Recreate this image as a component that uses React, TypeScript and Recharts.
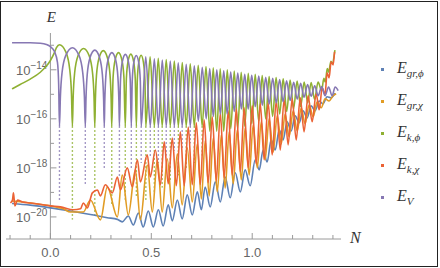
import React from "react";
import { LineChart, Line, XAxis, YAxis, ReferenceLine } from "recharts";

// values: N (e-folds) and log10 of the energy

// E_V (purple)
const vN = [
  -0.19, -0.1, -0.05, -0.02, 0, 0.02, 0.035, 0.041, 0.045,
  0.0495, 0.058, 0.077, 0.109, 0.141, 0.16, 0.1685, 0.173,
  0.1763, 0.1824, 0.1965, 0.22, 0.2435, 0.2576, 0.2637, 0.267,
  0.2695, 0.2745, 0.2855, 0.3045, 0.3235, 0.3345, 0.3395, 0.342,
  0.3475, 0.3565, 0.3715, 0.3865, 0.3955, 0.401,
  0.4055, 0.413, 0.4255, 0.438, 0.4455, 0.45,
  0.4725, 0.495, 0.515, 0.535, 0.5545, 0.574, 0.594, 0.614, 0.6335, 0.653,
  0.673, 0.693, 0.713, 0.733, 0.7525, 0.772, 0.7895, 0.807, 0.8245, 0.842,
  0.859, 0.876, 0.8935, 0.911, 0.9285, 0.946, 0.963, 0.98, 0.9975, 1.015,
  1.0325, 1.05, 1.067, 1.084, 1.1015, 1.119, 1.136, 1.153, 1.1705, 1.188,
  1.2055, 1.223, 1.24, 1.257, 1.2745, 1.292, 1.3095, 1.327, 1.344, 1.361,
  1.3785, 1.396, 1.411, 1.426,
];
const vE = [
  -12.9, -12.9, -12.92, -12.97, -13.06, -13.25, -13.7, -14.6, -16.3,
  -15.1, -14.1, -13.4, -13.1, -13.4, -14.1, -15.1, -16.3,
  -15.2, -14.2, -13.5, -13.2, -13.5, -14.2, -15.2, -16.3,
  -15.3, -14.3, -13.6, -13.3, -13.6, -14.3, -15.3, -16.3,
  -14.4, -13.67, -13.37, -13.67, -14.4, -16.3,
  -14.45, -13.72, -13.42, -13.72, -14.45, -16.3,
  -13.47, -16.3, -13.55, -16.3, -13.6, -16.3, -13.64, -16.3, -13.72, -16.3,
  -13.78, -16.3, -13.84, -16.1, -13.9, -16.0, -13.95, -15.9, -14.0, -15.8,
  -14.04, -15.8, -14.09, -15.7, -14.13, -15.6, -14.18, -15.6, -14.22, -15.5,
  -14.26, -15.45, -14.31, -15.4, -14.35, -15.35, -14.4, -15.3, -14.45, -15.25,
  -14.51, -15.2, -14.55, -15.12, -14.6, -15.08, -14.65, -15.06, -14.68, -15.06,
  -14.7, -15.06, -14.7, -14.85,
];
const vDipN = [0.045, 0.173, 0.267, 0.342, 0.401, 0.45, 0.495, 0.535, 0.574, 0.614, 0.653, 0.693];
const vDipE = [-19.4, -18.7, -18.0, -18.4, -18.0, -17.8, -17.6, -17.8, -17.5, -17.3, -17.2, -17.0];

// E_k,phi (green)
const gN = [
  -0.19, -0.15, -0.1, -0.05, -0.02, 0, 0.02, 0.03, 0.045, 0.077, 0.096, 0.1045, 0.109,
  0.1129, 0.1201, 0.1367, 0.1645, 0.1923, 0.2089, 0.2161, 0.22,
  0.223, 0.2284, 0.241, 0.262, 0.283, 0.2956, 0.301, 0.304,
  0.3107, 0.3207, 0.3375, 0.3543, 0.3643, 0.371,
  0.3765, 0.3847, 0.3985, 0.4123, 0.4205, 0.426,
  0.4307, 0.4378, 0.4495, 0.4612, 0.4683, 0.473,
  0.494, 0.515, 0.5345, 0.554, 0.574, 0.594, 0.614, 0.634, 0.6535, 0.673,
  0.693, 0.713, 0.7325, 0.752, 0.771, 0.79, 0.807, 0.824, 0.8415, 0.859,
  0.8765, 0.894, 0.911, 0.928, 0.9455, 0.963, 0.9805, 0.998, 1.015, 1.032,
  1.0495, 1.067, 1.084, 1.101, 1.1185, 1.136, 1.1535, 1.171, 1.188, 1.205,
  1.2225, 1.24, 1.2575, 1.275, 1.292, 1.309, 1.3265, 1.344, 1.355, 1.362,
  1.372, 1.379, 1.39, 1.396, 1.41,
];
const gE = [
  -14.78, -14.6, -14.38, -14.1, -13.85, -13.62, -13.3, -13.1, -12.98, -13.28, -14.0, -15.0, -16.3,
  -15.1, -14.13, -13.43, -13.13, -13.43, -14.13, -15.1, -16.3,
  -15.2, -14.22, -13.52, -13.22, -13.52, -14.22, -15.2, -16.3,
  -14.3, -13.6, -13.3, -13.6, -14.3, -16.3,
  -14.36, -13.66, -13.36, -13.66, -14.36, -16.3,
  -14.41, -13.71, -13.41, -13.71, -14.41, -16.3,
  -13.47, -16.3, -13.53, -16.3, -13.58, -16.3, -13.64, -16.3, -13.7, -16.3,
  -13.76, -16.3, -13.82, -16.3, -13.87, -16.5, -13.92, -16.5, -13.96, -16.5,
  -14.0, -16.4, -14.05, -16.4, -14.1, -16.3, -14.14, -16.2, -14.18, -16.1,
  -14.23, -16.0, -14.28, -15.9, -14.32, -15.8, -14.37, -15.7, -14.42, -15.6,
  -14.46, -15.5, -14.5, -15.35, -14.52, -15.2, -14.5, -14.85, -14.35, -14.5,
  -13.95, -14.1, -13.65, -13.75, -13.2,
];
const gDipN = [0.109, 0.22, 0.304, 0.371, 0.426, 0.473, 0.515, 0.554, 0.594, 0.634, 0.673, 0.713, 0.752];
const gDipE = [-20.1, -20.0, -19.5, -19.4, -19.2, -19.4, -19.0, -18.8, -18.5, -18.3, -18.0, -17.8, -17.5];
const dipTop = -16.3;

// E_gr,phi (blue)
const bN = [
  -0.19, -0.1, 0, 0.099, 0.198, 0.282, 0.332, 0.356, 0.386, 0.411, 0.436, 0.46, 0.485,
  0.51, 0.535, 0.559, 0.584, 0.604, 0.629, 0.653, 0.678, 0.703, 0.728, 0.748, 0.767,
  0.792, 0.817, 0.842, 0.866, 0.891, 0.916, 0.941, 0.965, 0.99, 1.015, 1.035, 1.054,
  1.074, 1.094, 1.114, 1.134, 1.153, 1.173, 1.193, 1.213, 1.233, 1.252, 1.272, 1.292,
  1.312, 1.332, 1.351, 1.371, 1.391, 1.41,
];
const bE = [
  -19.45, -19.52, -19.63, -19.76, -19.9, -20.03, -20.1, -20.2, -19.96, -20.33, -19.84, -20.41, -19.76,
  -20.41, -19.71, -20.37, -19.51, -20.16, -19.31, -20.08, -19.1, -19.92, -18.98, -19.71, -18.78,
  -19.59, -18.57, -19.39, -18.37, -19.22, -18.2, -18.98, -18.08, -18.73, -17.67, -18.08, -17.27,
  -17.76, -16.86, -17.27, -16.45, -16.86, -16.12, -16.49, -15.88, -16.16, -15.67, -15.96, -15.47,
  -15.67, -15.27, -15.39, -15.1, -15.14, -14.95,
];

// E_gr,chi (orange)
const oN = [
  -0.19, -0.1, 0, 0.064, 0.099, 0.163, 0.198, 0.248, 0.282, 0.332, 0.356, 0.386, 0.421,
  0.446, 0.48, 0.505, 0.53, 0.554, 0.579, 0.604, 0.629, 0.653, 0.678, 0.703, 0.728,
  0.748, 0.767, 0.787, 0.807, 0.827, 0.847, 0.866, 0.886, 0.906, 0.926, 0.946, 0.965,
  0.985, 1.005, 1.025, 1.045, 1.064, 1.084, 1.104, 1.124, 1.144, 1.163, 1.183, 1.203,
  1.223, 1.243, 1.262, 1.282, 1.302, 1.322, 1.342, 1.361, 1.381, 1.401, 1.416,
];
const oE = [
  -19.35, -19.43, -19.55, -19.67, -19.8, -19.8, -19.31, -20.12, -18.78, -20.0, -18.29, -19.92, -18.08,
  -20.12, -17.88, -19.8, -17.67, -19.8, -17.63, -19.63, -17.43, -19.51, -17.18, -19.39, -17.02,
  -19.27, -16.9, -19.14, -16.78, -18.98, -16.65, -18.82, -16.53, -18.65, -16.45, -18.49, -16.37,
  -18.29, -16.24, -18.0, -16.12, -17.67, -16.0, -17.35, -15.88, -17.02, -15.8, -16.73, -15.67,
  -16.49, -15.55, -16.2, -15.43, -15.92, -15.31, -15.55, -15.18, -15.27, -15.06, -14.98,
];

// E_k,chi (red)
const rN = [
  -0.198, -0.188, -0.183, -0.176, -0.163, -0.139, -0.099, 0, 0.05, 0.114, 0.149, 0.163, 0.183,
  0.208, 0.233, 0.248, 0.272, 0.307, 0.332, 0.347, 0.381, 0.406, 0.431, 0.446, 0.48,
  0.495, 0.52, 0.545, 0.564, 0.584, 0.604, 0.624, 0.644, 0.663, 0.683, 0.703, 0.723,
  0.743, 0.762, 0.782, 0.802, 0.822, 0.842, 0.861, 0.881, 0.901, 0.921, 0.941, 0.96,
  0.98, 1.0, 1.02, 1.04, 1.059, 1.079, 1.099, 1.119, 1.139, 1.158, 1.178, 1.198,
  1.218, 1.238, 1.257, 1.277, 1.297, 1.317, 1.332, 1.347, 1.361, 1.371, 1.381, 1.391,
  1.401, 1.408,
];
const rE = [
  -19.43, -19.31, -19.02, -19.55, -19.31, -19.39, -19.43, -19.55, -19.59, -19.71, -19.67, -19.43, -19.63,
  -19.02, -18.9, -19.14, -18.69, -19.02, -18.37, -18.9, -18.0, -18.78, -17.67, -18.57, -17.47,
  -18.37, -17.27, -18.69, -16.94, -18.65, -16.78, -18.73, -16.53, -18.73, -16.33, -18.69, -16.16,
  -18.69, -16.04, -18.61, -15.92, -18.53, -15.76, -18.41, -15.67, -18.29, -15.59, -18.16, -15.55,
  -18.0, -15.47, -17.84, -15.39, -17.67, -15.35, -17.47, -15.27, -17.27, -15.22, -17.06, -15.18,
  -16.86, -15.14, -16.53, -15.06, -16.12, -14.98, -15.63, -14.73, -15.02, -14.12, -14.33, -13.67,
  -13.8, -13.27,
];

const xTicks = [-0.2, -0.1, 0, 0.1, 0.2, 0.3, 0.4, 0.5, 0.6, 0.7, 0.8, 0.9, 1, 1.1, 1.2, 1.3, 1.4];
const xLabelled = [0, 0.5, 1];
const yMajor = [-20, -18, -16, -14];
const yMinor = [-19, -17, -15, -13];

const legendItems = [
  { base: "E", sub: "gr,\u03d5", color: "#5E81B5" },
  { base: "E", sub: "gr,\u03c7", color: "#E19C24" },
  { base: "E", sub: "k,\u03d5", color: "#8FB032" },
  { base: "E", sub: "k,\u03c7", color: "#EB6235" },
  { base: "E", sub: "V", color: "#8778B3" },
];

const axisGray = "#9a9a9a";
const labelGray = "#666";
const sans = "'Liberation Sans', Arial, sans-serif";
const serif = "'Liberation Serif', 'Times New Roman', serif";

const zip = (ns: number[], es: number[]) => ns.map((n, i) => ({ n, e: es[i] }));

const dips = (ns: number[], deep: number[]) => {
  const out: { n: number; e: number | null }[] = [];
  ns.forEach((n, i) => {
    out.push({ n, e: dipTop }, { n, e: deep[i] }, { n, e: null });
  });
  return out;
};

const XTick = (p: any) => {
  const v = p.payload.value;
  const major = xLabelled.some((t) => Math.abs(t - v) < 1e-9);
  return (
    <g>
      <line x1={p.x} x2={p.x} y1={p.y} y2={p.y - (major ? 6 : 4)} stroke={axisGray} />
      {major && (
        <text x={p.x} y={p.y + 18} textAnchor="middle" fill={labelGray} fontSize={13} fontFamily={sans}>
          {v.toFixed(1)}
        </text>
      )}
    </g>
  );
};

const yLabel = (v: number) => (props: any) => {
  const vb = props.viewBox;
  return (
    <text x={vb.x - 3} y={vb.y + 5} textAnchor="end" fill={labelGray} fontSize={13} fontFamily={sans}>
      10
      <tspan dy={-6} fontSize={10}>
        {"\u2212" + Math.abs(v)}
      </tspan>
    </text>
  );
};

const eLabel = (props: any) => {
  const vb = props.viewBox;
  return (
    <text x={vb.x + 1} y={vb.y - 11} textAnchor="middle" fill="#333" fontSize={15} fontStyle="italic" fontFamily={serif}>
      E
    </text>
  );
};

const nLabel = (props: any) => {
  const vb = props.viewBox;
  return (
    <text x={vb.x + vb.width + 9} y={vb.y + 4} fill="#333" fontSize={16} fontStyle="italic" fontFamily={serif}>
      N
    </text>
  );
};

const lineProps = {
  dataKey: "e",
  dot: false,
  activeDot: false,
  isAnimationActive: false,
  legendType: "none" as const,
};

const App = () => {
  return (
    <div style={{ position: "absolute", left: 0, top: 0, width: 440, height: 268, background: "#fff" }}>
      <LineChart width={440} height={268} margin={{ top: 33, right: 99, bottom: 0, left: 6 }}>
        <XAxis
          type="number"
          dataKey="n"
          domain={[-0.22, 1.44]}
          ticks={xTicks}
          interval={0}
          height={29}
          tickSize={0}
          tickMargin={0}
          tickLine={false}
          tick={XTick}
          axisLine={{ stroke: axisGray }}
          allowDataOverflow
          label={nLabel}
        />
        <YAxis type="number" dataKey="e" domain={[-20.9, -12.5]} hide allowDataOverflow />
        <ReferenceLine x={0} stroke={axisGray} label={eLabel} />
        {yMajor.map((v) => (
          <ReferenceLine
            key={"M" + v}
            segment={[{ x: 0, y: v }, { x: 0.03, y: v }]}
            stroke={axisGray}
            label={yLabel(v)}
          />
        ))}
        {yMinor.map((v) => (
          <ReferenceLine key={"m" + v} segment={[{ x: 0, y: v }, { x: 0.018, y: v }]} stroke={axisGray} />
        ))}
        <Line {...lineProps} data={dips(gDipN, gDipE)} type="linear" stroke="#8FB032" strokeWidth={1.4} strokeDasharray="1.5 2.5" />
        <Line {...lineProps} data={dips(vDipN, vDipE)} type="linear" stroke="#8778B3" strokeWidth={1.4} strokeDasharray="1.5 2.5" />
        <Line {...lineProps} data={zip(bN, bE)} type="monotone" stroke="#5E81B5" strokeWidth={1.6} />
        <Line {...lineProps} data={zip(oN, oE)} type="monotone" stroke="#E19C24" strokeWidth={1.6} />
        <Line {...lineProps} data={zip(gN, gE)} type="monotone" stroke="#8FB032" strokeWidth={1.6} />
        <Line {...lineProps} data={zip(rN, rE)} type="monotone" stroke="#EB6235" strokeWidth={1.6} />
        <Line {...lineProps} data={zip(vN, vE)} type="monotone" stroke="#8778B3" strokeWidth={1.6} />
      </LineChart>
      {legendItems.map((it, i) => (
        <div
          key={i}
          style={{
            position: "absolute",
            left: 381,
            top: 53 + i * 32,
            height: 32,
            display: "flex",
            alignItems: "center",
            fontFamily: serif,
            color: "#333",
          }}
        >
          <span style={{ width: 3, height: 3, background: it.color, marginRight: 13 }} />
          <span style={{ fontSize: 16, fontStyle: "italic", whiteSpace: "nowrap" }}>
            {it.base}
            <sub style={{ fontSize: 11, verticalAlign: -4 }}>{it.sub}</sub>
          </span>
        </div>
      ))}
      <div
        style={{
          position: "absolute",
          left: 0,
          top: 1,
          width: 436,
          height: 264,
          border: "1px solid #222",
          pointerEvents: "none",
        }}
      />
    </div>
  );
};

export default App;
